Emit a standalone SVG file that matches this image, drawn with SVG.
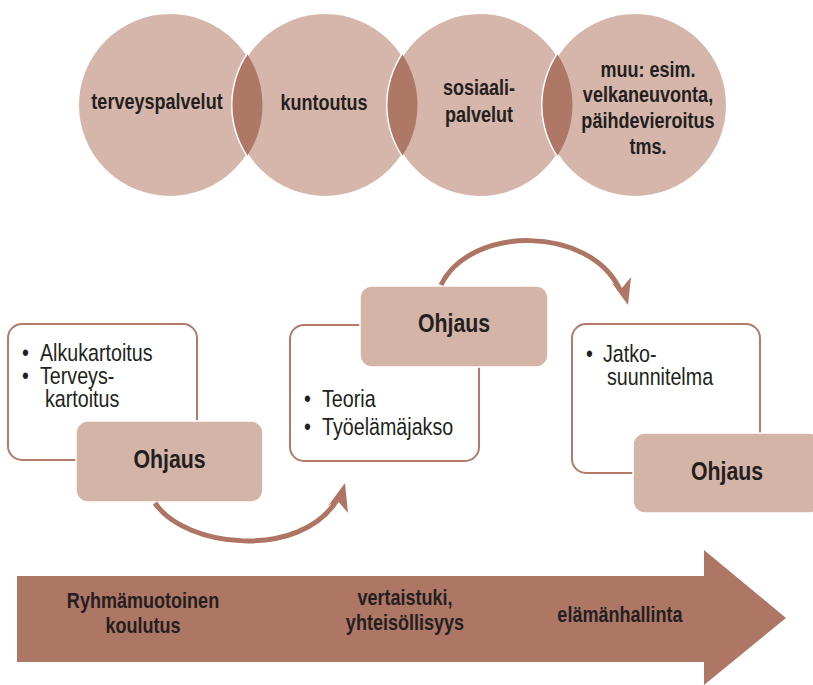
<svg xmlns="http://www.w3.org/2000/svg" width="813" height="685" viewBox="0 0 813 685">
  <style>
    .circle { fill: #D6B6AA; stroke: #FFFFFF; stroke-width: 3; }
    .lens { fill: #AE7766; }
    .card { fill: #FFFFFF; stroke: #B37A6A; stroke-width: 2; }
    .tag { fill: #D5B4A8; stroke: #FFFFFF; stroke-width: 1.5; }
    .bold { font-family: "Liberation Sans", Arial, sans-serif; font-weight: bold; fill: #231F20; }
    .ctext { font-size: 22px; text-anchor: middle; }
    .tagtext { font-size: 26px; text-anchor: middle; }
    .body { font-family: "Liberation Sans", Arial, sans-serif; font-size: 24px; fill: #231F20; }
    .curve { fill: none; stroke: #AE7565; stroke-width: 5; }
    .head { fill: #AE7565; }
  </style>

  <!-- Service circles; all text uses a condensed (0.82 wide) sans -->
  <g id="services">
    <g id="circle-terveyspalvelut">
      <circle class="circle" cx="170" cy="105" r="92.5"/>
    </g>
    <g id="circle-kuntoutus">
      <circle class="circle" cx="325" cy="105" r="92.5"/>
    </g>
    <g id="circle-sosiaalipalvelut">
      <circle class="circle" cx="480" cy="105" r="92.5"/>
    </g>
    <g id="circle-muu">
      <circle class="circle" cx="635" cy="105" r="92.5"/>
    </g>
    <!-- overlaps -->
    <path class="lens" d="M247.5,54.5 A92.5,92.5 0 0 1 247.5,155.5 A92.5,92.5 0 0 1 247.5,54.5 Z"/>
    <path class="lens" d="M402.5,54.5 A92.5,92.5 0 0 1 402.5,155.5 A92.5,92.5 0 0 1 402.5,54.5 Z"/>
    <path class="lens" d="M557.5,54.5 A92.5,92.5 0 0 1 557.5,155.5 A92.5,92.5 0 0 1 557.5,54.5 Z"/>
    <text class="bold ctext" transform="matrix(0.82 0 0 1 157 109)">terveyspalvelut</text>
    <text class="bold ctext" transform="matrix(0.82 0 0 1 324 110)">kuntoutus</text>
    <text class="bold ctext" transform="matrix(0.82 0 0 1 479 95)">sosiaali-</text>
    <text class="bold ctext" transform="matrix(0.82 0 0 1 479 122)">palvelut</text>
    <text class="bold ctext" transform="matrix(0.82 0 0 1 648 77)">muu: esim.</text>
    <text class="bold ctext" transform="matrix(0.82 0 0 1 648 102)">velkaneuvonta,</text>
    <text class="bold ctext" transform="matrix(0.82 0 0 1 648 128)">päihdevieroitus</text>
    <text class="bold ctext" transform="matrix(0.82 0 0 1 648 154)">tms.</text>
  </g>

  <!-- Step 1 -->
  <g id="step1">
    <rect class="card" x="8" y="324" width="189" height="136" rx="14"/>
    <text class="body" transform="matrix(0.82 0 0 1 22 361)">•</text>
    <text class="body" transform="matrix(0.82 0 0 1 40 361)">Alkukartoitus</text>
    <text class="body" transform="matrix(0.82 0 0 1 22 384)">•</text>
    <text class="body" transform="matrix(0.82 0 0 1 40 384)">Terveys-</text>
    <text class="body" transform="matrix(0.82 0 0 1 45 407)">kartoitus</text>
  </g>
  <g id="ohjaus1">
    <rect class="tag" x="76" y="421" width="187" height="81" rx="12"/>
    <text class="bold tagtext" transform="matrix(0.82 0 0 1 169.5 468)">Ohjaus</text>
  </g>

  <!-- Step 2 -->
  <g id="step2">
    <rect class="card" x="290" y="325" width="189" height="136" rx="14"/>
    <text class="body" transform="matrix(0.82 0 0 1 304 407)">•</text>
    <text class="body" transform="matrix(0.82 0 0 1 322 407)">Teoria</text>
    <text class="body" transform="matrix(0.82 0 0 1 304 435)">•</text>
    <text class="body" transform="matrix(0.82 0 0 1 322 435)">Työelämäjakso</text>
  </g>
  <g id="ohjaus2">
    <rect class="tag" x="360" y="286" width="188" height="81" rx="12"/>
    <text class="bold tagtext" transform="matrix(0.82 0 0 1 454 332)">Ohjaus</text>
  </g>

  <!-- Step 3 -->
  <g id="step3">
    <rect class="card" x="572" y="324" width="188" height="149" rx="14"/>
    <text class="body" transform="matrix(0.82 0 0 1 586 362)">•</text>
    <text class="body" transform="matrix(0.82 0 0 1 603 362)">Jatko-</text>
    <text class="body" transform="matrix(0.82 0 0 1 607 385)">suunnitelma</text>
  </g>
  <g id="ohjaus3">
    <rect class="tag" x="633" y="433" width="188" height="80" rx="12"/>
    <text class="bold tagtext" transform="matrix(0.82 0 0 1 727 480)">Ohjaus</text>
  </g>

  <!-- Curved connectors -->
  <g id="connectors">
    <path class="curve" d="M155,503 C185,548 300,560 337,500"/>
    <polygon class="head" points="345,483 348,513 337,500 328,506"/>
    <path class="curve" d="M441,285 C470,225 590,225 620,290"/>
    <polygon class="head" points="628,305 612,283 622,288 631,277"/>
  </g>

  <!-- Progress arrow -->
  <g id="progress">
    <polygon fill="#AE7665" points="17,576 704,576 704,550 786,618 704,685 704,662 17,662"/>
    <text class="bold ctext" transform="matrix(0.82 0 0 1 143 608)">Ryhmämuotoinen</text>
    <text class="bold ctext" transform="matrix(0.82 0 0 1 143 633)">koulutus</text>
    <text class="bold ctext" transform="matrix(0.82 0 0 1 405 605)">vertaistuki,</text>
    <text class="bold ctext" transform="matrix(0.82 0 0 1 405 630)">yhteisöllisyys</text>
    <text class="bold ctext" transform="matrix(0.82 0 0 1 620 622)">elämänhallinta</text>
  </g>
</svg>
